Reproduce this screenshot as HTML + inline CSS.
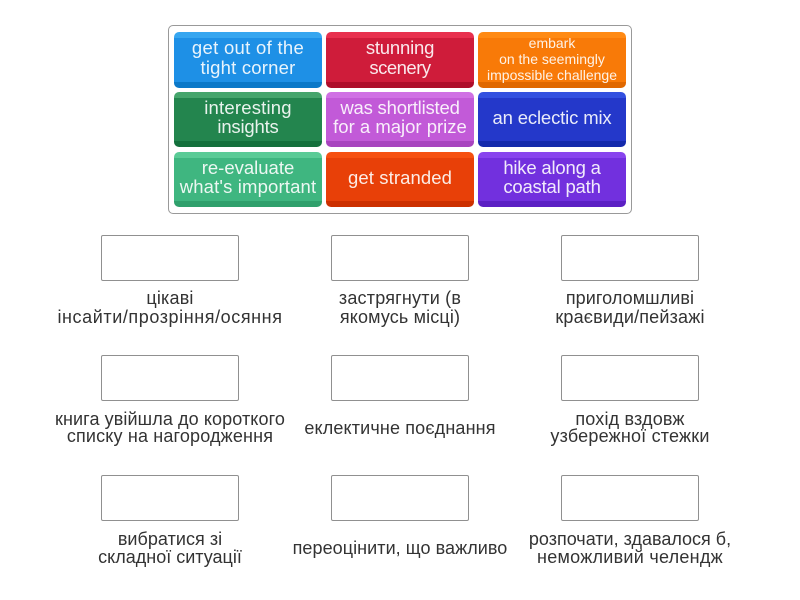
<!DOCTYPE html>
<html><head><meta charset="utf-8"><style>
html,body{margin:0;padding:0;background:#fff}
#p{position:relative;width:800px;height:600px;overflow:hidden;background:#fff;font-family:"Liberation Sans",sans-serif}
.o{position:absolute;left:168px;top:25px;width:462px;height:187px;border:1px solid #999;border-radius:5px}
.c{position:absolute;width:148px;border-radius:5px;box-sizing:border-box;color:#fff}
.t{position:absolute;white-space:nowrap;transform:translateX(-50%);line-height:20px;text-align:center}
.w{color:#fff;font-size:18.5px;opacity:.9}
.b{position:absolute;width:136px;height:44px;border:1px solid #909090;border-radius:2px;background:#fff}
.l{color:#333;font-size:18px}
</style></head><body><div id="p">
<div class="o"></div>

<div class="c" style="left:174px;top:32px;height:56px;background:linear-gradient(#36a6f0 0 6px,#1e90e6 6px 50px,#0b78c8 50px)"></div>
<div class="c" style="left:326px;top:32px;height:56px;background:linear-gradient(#e8304e 0 6px,#cf1c3a 6px 50px,#ae0e2a 50px)"></div>
<div class="c" style="left:478px;top:32px;height:56px;background:linear-gradient(#ff8a14 0 6px,#f87a08 6px 50px,#e06800 50px)"></div>
<div class="c" style="left:174px;top:92px;height:55px;background:linear-gradient(#45a56c 0 6px,#23854e 6px 49px,#14703c 49px)"></div>
<div class="c" style="left:326px;top:92px;height:55px;background:linear-gradient(#d070e4 0 6px,#c25ad8 6px 49px,#a844bf 49px)"></div>
<div class="c" style="left:478px;top:92px;height:55px;background:linear-gradient(#3350e0 0 6px,#2438ca 6px 49px,#142aac 49px)"></div>
<div class="c" style="left:174px;top:152px;height:55px;background:linear-gradient(#5acb96 0 6px,#3fb680 6px 49px,#30a06c 49px)"></div>
<div class="c" style="left:326px;top:152px;height:55px;background:linear-gradient(#f65010 0 6px,#e84008 6px 49px,#cc3000 49px)"></div>
<div class="c" style="left:478px;top:152px;height:55px;background:linear-gradient(#8844ee 0 6px,#7230de 6px 49px,#5c20c4 49px)"></div>

<div class="t w" style="left:248px;top:38px;letter-spacing:.3px">get out of the</div>
<div class="t w" style="left:248px;top:58px;letter-spacing:.2px">tight corner</div>
<div class="t w" style="left:400px;top:38px;letter-spacing:-.2px">stunning</div>
<div class="t w" style="left:400px;top:58px;letter-spacing:-.5px">scenery</div>
<div class="t w" style="left:552px;top:33px;font-size:14px">embark</div>
<div class="t w" style="left:552px;top:49px;font-size:14px">on the seemingly</div>
<div class="t w" style="left:552px;top:65px;font-size:14px">impossible challenge</div>
<div class="t w" style="left:248px;top:98px;letter-spacing:.2px">interesting</div>
<div class="t w" style="left:248px;top:117px;letter-spacing:-.2px">insights</div>
<div class="t w" style="left:400px;top:98px;letter-spacing:-.2px">was shortlisted</div>
<div class="t w" style="left:400px;top:117px">for a major prize</div>
<div class="t w" style="left:552px;top:108px;letter-spacing:-.15px">an eclectic mix</div>
<div class="t w" style="left:248px;top:158px">re-evaluate</div>
<div class="t w" style="left:248px;top:177px;letter-spacing:.15px">what's important</div>
<div class="t w" style="left:400px;top:168px;letter-spacing:.1px">get stranded</div>
<div class="t w" style="left:552px;top:158px;letter-spacing:-.2px">hike along a</div>
<div class="t w" style="left:552px;top:177px;letter-spacing:-.2px">coastal path</div>

<div class="b" style="left:101px;top:235px"></div>
<div class="b" style="left:331px;top:235px"></div>
<div class="b" style="left:561px;top:235px"></div>
<div class="b" style="left:101px;top:355px"></div>
<div class="b" style="left:331px;top:355px"></div>
<div class="b" style="left:561px;top:355px"></div>
<div class="b" style="left:101px;top:475px"></div>
<div class="b" style="left:331px;top:475px"></div>
<div class="b" style="left:561px;top:475px"></div>

<div class="t l" style="left:170px;top:288px;letter-spacing:.18px">цікаві</div>
<div class="t l" style="left:170px;top:307px;letter-spacing:.58px">інсайти/прозріння/осяння</div>
<div class="t l" style="left:400px;top:288px;letter-spacing:.2px">застрягнути (в</div>
<div class="t l" style="left:400px;top:307px;letter-spacing:.14px">якомусь місці)</div>
<div class="t l" style="left:630px;top:288px;letter-spacing:.08px">приголомшливі</div>
<div class="t l" style="left:630px;top:307px;letter-spacing:.18px">краєвиди/пейзажі</div>
<div class="t l" style="left:170px;top:409px;letter-spacing:.1px">книга увійшла до короткого</div>
<div class="t l" style="left:170px;top:426px;letter-spacing:.16px">списку на нагородження</div>
<div class="t l" style="left:400px;top:418px;letter-spacing:.15px">еклектичне поєднання</div>
<div class="t l" style="left:630px;top:409px;letter-spacing:.17px">похід вздовж</div>
<div class="t l" style="left:630px;top:426px;letter-spacing:.2px">узбережної стежки</div>
<div class="t l" style="left:170px;top:529px;letter-spacing:.04px">вибратися зі</div>
<div class="t l" style="left:170px;top:547px">складної ситуації</div>
<div class="t l" style="left:400px;top:538px;letter-spacing:.06px">переоцінити, що важливо</div>
<div class="t l" style="left:630px;top:529px">розпочати, здавалося б,</div>
<div class="t l" style="left:630px;top:547px;letter-spacing:.26px">неможливий челендж</div>
</div></body></html>
